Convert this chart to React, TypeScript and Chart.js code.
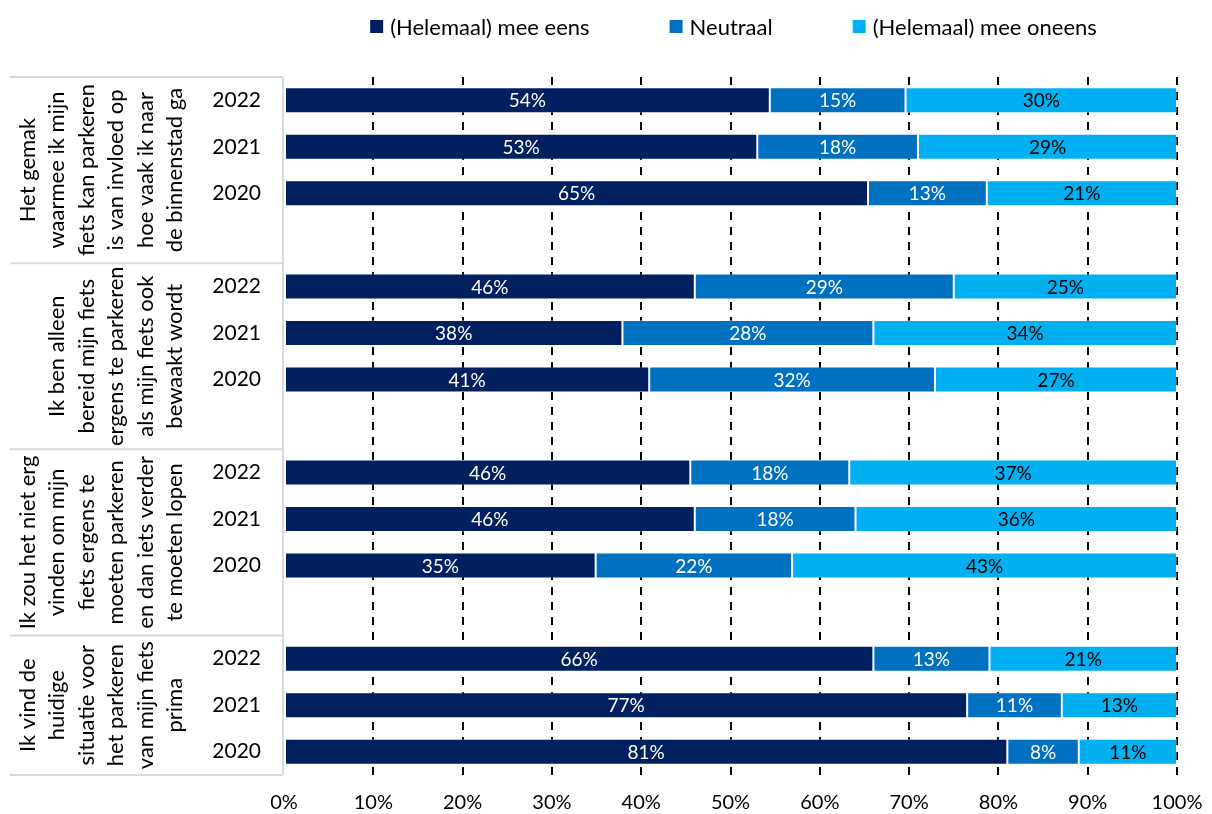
import React, { useEffect, useRef } from "react";
import { Chart, registerables } from "chart.js";

Chart.register(...registerables);

const years = ["2022", "2021", "2020"];
const statements: string[][] = [
  ["Het gemak", "waarmee ik mijn", "fiets kan parkeren", "is van invloed op", "hoe vaak ik naar", "de binnenstad ga"],
  ["Ik ben alleen", "bereid mijn fiets", "ergens te parkeren", "als mijn fiets ook", "bewaakt wordt"],
  ["Ik zou het niet erg", "vinden om mijn", "fiets ergens te", "moeten parkeren", "en dan iets verder", "te moeten lopen"],
  ["Ik vind de", "huidige", "situatie voor", "het parkeren", "van mijn fiets", "prima"],
];
const seriesNames = ["(Helemaal) mee eens", "Neutraal", "(Helemaal) mee oneens"];
const seriesColors = ["#002060", "#0070C0", "#00B0F0"];
const labelColors = ["#ffffff", "#ffffff", "#000000"];

// values per statement, in order 2022, 2021, 2020
const agree = [
  [54.4, 53.0, 65.4],
  [46.0, 37.9, 40.9],
  [45.5, 46.0, 34.9],
  [66.0, 76.5, 81.0],
];
const neutral = [
  [15.2, 18.0, 13.3],
  [29.0, 28.1, 32.0],
  [17.8, 18.0, 22.0],
  [13.0, 10.6, 8.0],
];
const disagree = [
  [30.4, 29.0, 21.3],
  [25.0, 34.0, 27.1],
  [36.7, 36.0, 43.1],
  [21.0, 12.9, 11.0],
];
const xTicks = [0, 10, 20, 30, 40, 50, 60, 70, 80, 90, 100];

const FONT = "Lato, 'Open Sans', sans-serif";

// build rows: each statement gives 3 year rows, plus a spacer row between statements
const rowLabels: string[] = [];
const groupRanges: { start: number; end: number }[] = [];
statements.forEach((_, g) => {
  const start = rowLabels.length;
  years.forEach((y) => rowLabels.push(y));
  if (g < statements.length - 1) rowLabels.push("");
  groupRanges.push({ start, end: rowLabels.length - 1 });
});
function flatten(src: number[][]): (number | null)[] {
  const out: (number | null)[] = [];
  src.forEach((vals, g) => {
    vals.forEach((v) => out.push(v));
    if (g < src.length - 1) out.push(null);
  });
  return out;
}
const seriesData = [flatten(agree), flatten(neutral), flatten(disagree)];

const tablePlugin = {
  id: "tablePlugin",
  afterDraw(chart: any) {
    const { ctx, chartArea, scales } = chart;
    const y = scales.y;
    const slot = y.getPixelForValue(1) - y.getPixelForValue(0);
    const lineX0 = 10;
    const lineX1 = chartArea.left - 1;
    ctx.save();
    ctx.strokeStyle = "#d9d9d9";
    ctx.lineWidth = 2;
    ctx.beginPath();
    ctx.moveTo(lineX1, chartArea.top);
    ctx.lineTo(lineX1, chartArea.bottom);
    ctx.stroke();
    groupRanges.forEach((r, g) => {
      const top = y.getPixelForValue(r.start) - slot / 2;
      const bottom = y.getPixelForValue(r.end) + slot / 2;
      ctx.beginPath();
      ctx.moveTo(lineX0, top);
      ctx.lineTo(lineX1, top);
      if (g === groupRanges.length - 1) {
        ctx.moveTo(lineX0, bottom);
        ctx.lineTo(lineX1, bottom);
      }
      ctx.stroke();
      const lines = statements[g];
      const cy = (top + bottom) / 2;
      const lastX = chartArea.left - 109;
      const step = 29.5;
      ctx.fillStyle = "#000000";
      ctx.font = `22px ${FONT}`;
      ctx.textAlign = "center";
      ctx.textBaseline = "middle";
      lines.forEach((ln, i) => {
        const cx = lastX - (lines.length - 1 - i) * step;
        ctx.save();
        ctx.translate(cx, cy);
        ctx.rotate(-Math.PI / 2);
        ctx.fillText(ln, 0, 0);
        ctx.restore();
      });
    });
    ctx.restore();
  },
};

const labelPlugin = {
  id: "labelPlugin",
  afterDatasetsDraw(chart: any) {
    const { ctx } = chart;
    ctx.save();
    ctx.font = `19px ${FONT}`;
    ctx.textAlign = "center";
    ctx.textBaseline = "middle";
    chart.data.datasets.forEach((ds: any, i: number) => {
      const meta = chart.getDatasetMeta(i);
      meta.data.forEach((bar: any, idx: number) => {
        const v = ds.data[idx];
        if (v === null || v === undefined) return;
        const p = bar.getProps(["x", "y", "base"], true);
        ctx.fillStyle = labelColors[i];
        ctx.fillText(Math.round(v) + "%", (p.x + p.base) / 2, p.y + 1);
      });
    });
    ctx.restore();
  },
};

const legendPlugin = {
  id: "legendPlugin",
  afterDraw(chart: any) {
    const { ctx, chartArea } = chart;
    ctx.save();
    ctx.font = `22px ${FONT}`;
    ctx.textBaseline = "middle";
    ctx.textAlign = "left";
    const box = 13;
    const gap = 7;
    const spacing = 80;
    const widths = seriesNames.map((n) => box + gap + ctx.measureText(n).width);
    const total = widths.reduce((a, b) => a + b, 0) + spacing * (seriesNames.length - 1);
    let x = (chartArea.left + chartArea.right) / 2 + 3 - total / 2;
    const cy = 26.5;
    seriesNames.forEach((n, i) => {
      ctx.fillStyle = seriesColors[i];
      ctx.fillRect(x, cy - box / 2, box, box);
      ctx.fillStyle = "#000000";
      ctx.fillText(n, x + box + gap, cy + 1);
      x += widths[i] + spacing;
    });
    ctx.restore();
  },
};

export default function App() {
  const ref = useRef<HTMLCanvasElement | null>(null);
  useEffect(() => {
    if (!ref.current) return;
    const chart = new Chart(ref.current, {
      type: "bar",
      data: {
        labels: rowLabels,
        datasets: seriesNames.map((name, i) => ({
          label: name,
          data: seriesData[i],
          backgroundColor: seriesColors[i],
          borderColor: "rgba(255,255,255,0.35)",
          borderWidth: 1,
          borderSkipped: false,
          categoryPercentage: 1,
          barPercentage: 0.559,
        })),
      },
      options: {
        indexAxis: "y",
        animation: false,
        responsive: true,
        maintainAspectRatio: false,
        layout: { padding: { top: 77, right: 35, bottom: 0, left: 0 } },
        plugins: {
          legend: { display: false },
          tooltip: { enabled: false },
        },
        scales: {
          x: {
            stacked: true,
            min: 0,
            max: 100,
            afterBuildTicks: (scale: any) => {
              scale.ticks = xTicks.map((v) => ({ value: v }));
            },
            afterFit: (scale: any) => {
              scale.height = 39;
              scale.paddingLeft = 0;
              scale.paddingRight = 0;
            },
            ticks: {
              callback: (v: any) => v + "%",
              color: "#000000",
              font: { family: FONT, size: 20 },
              padding: 16,
              maxRotation: 0,
            },
            grid: {
              drawTicks: false,
              lineWidth: 2,
              color: (c: any) => (c.tick && c.tick.value === 0 ? "rgba(0,0,0,0)" : "#000000"),
            },
            border: { display: false, dash: [8, 7] },
          },
          y: {
            stacked: true,
            afterFit: (scale: any) => {
              scale.width = 284;
            },
            ticks: {
              color: "#000000",
              font: { family: FONT, size: 21 },
              padding: 23,
              autoSkip: false,
            },
            grid: { display: false, drawTicks: false },
            border: { display: false },
          },
        },
      },
      plugins: [tablePlugin, labelPlugin, legendPlugin],
    } as any);
    let alive = true;
    if ((document as any).fonts && (document as any).fonts.ready) {
      (document as any).fonts.ready.then(() => {
        if (alive) chart.update();
      });
    }
    return () => {
      alive = false;
      chart.destroy();
    };
  }, []);
  return (
    <div style={{ position: "fixed", left: 0, top: 0, width: 1212, height: 814, background: "#ffffff" }}>
      <canvas ref={ref} />
    </div>
  );
}
